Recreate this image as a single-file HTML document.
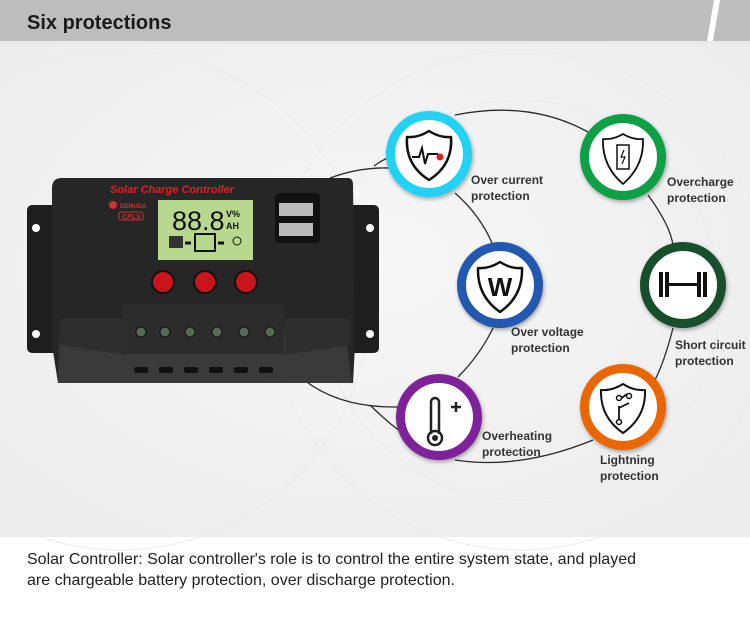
<!DOCTYPE html>
<html><head><meta charset="utf-8"><style>
html,body{margin:0;padding:0;background:#fff}
svg{display:block}
text{font-family:"Liberation Sans",sans-serif}
</style></head><body>
<svg width="750" height="620" viewBox="0 0 750 620" xmlns="http://www.w3.org/2000/svg">
<defs>
<radialGradient id="bg" cx="0.5" cy="0.45" r="0.7">
<stop offset="0" stop-color="#f7f7f7"/><stop offset="1" stop-color="#ececec"/>
</radialGradient>
<filter id="sh" x="-20%" y="-20%" width="140%" height="140%"><feDropShadow dx="1" dy="2" stdDeviation="2" flood-opacity="0.35"/></filter>
</defs>
<rect x="0" y="41" width="750" height="496" fill="url(#bg)"/>
<g fill="none" stroke="#eaeaea" stroke-width="1">
<circle cx="120" cy="300" r="250"/><circle cx="520" cy="300" r="250"/><circle cx="520" cy="300" r="200"/>
</g>
<!-- header -->
<rect x="0" y="0" width="750" height="41" fill="#bdbdbd"/>
<polygon points="714,0 720,0 713,41 707,41" fill="#fff"/>
<rect x="0" y="41" width="750" height="3" fill="#e9e9e9"/>
<text x="27" y="29" font-size="20" font-weight="bold" fill="#1a1a1a">Six protections</text>

<!-- connectors -->
<g fill="none" stroke="#2a2a2a" stroke-width="1.3">
<path d="M455,115 Q530,100 588,132"/>
<path d="M648,195 Q670,225 673,245"/>
<path d="M673,328 Q665,360 655,380"/>
<path d="M593,440 Q520,470 455,460"/>
<path d="M458,377 Q480,355 493,328"/>
<path d="M492,243 Q480,215 455,193"/>
<path d="M330,178 Q360,167 390,168"/>
<path d="M374,166 Q382,160 390,157"/>
<path d="M304,380 Q340,408 398,407"/>
<path d="M370,405 Q385,420 401,432"/>
</g>

<!-- device -->
<g>
<rect x="27" y="205" width="352" height="148" rx="5" fill="#1e1e1e"/>
<circle cx="36" cy="228" r="4" fill="#fff"/><circle cx="36" cy="334" r="4" fill="#fff"/>
<circle cx="370" cy="228" r="4" fill="#fff"/><circle cx="370" cy="334" r="4" fill="#fff"/>
<path d="M62,178 L348,178 Q353,178 353,185 L355,345 L353,383 L58,383 L52,345 L52,188 Q52,178 62,178 Z" fill="#262626"/>
<path d="M60,330 L345,330 L352,383 L58,383 Z" fill="#3a3a3a"/>
<path d="M60,318 L125,318 L125,355 L60,345Z M285,318 L350,318 L350,345 L285,355Z" fill="#2e2e2e"/>
<rect x="122" y="304" width="162" height="50" rx="3" fill="#2c2c2c"/>
<g fill="#556b55" stroke="#111" stroke-width="1">
<circle cx="141" cy="332" r="5"/><circle cx="165" cy="332" r="5"/><circle cx="190" cy="332" r="5"/>
<circle cx="217" cy="332" r="5"/><circle cx="244" cy="332" r="5"/><circle cx="270" cy="332" r="5"/>
</g>
<g fill="#111">
<rect x="134" y="367" width="14" height="6" rx="2"/><rect x="159" y="367" width="14" height="6" rx="2"/>
<rect x="184" y="367" width="14" height="6" rx="2"/><rect x="209" y="367" width="14" height="6" rx="2"/>
<rect x="234" y="367" width="14" height="6" rx="2"/><rect x="259" y="367" width="14" height="6" rx="2"/>
</g>
<text x="110" y="193" font-size="11" font-style="italic" font-weight="bold" fill="#d22">Solar Charge Controller</text>
<circle cx="113" cy="205" r="4" fill="#c33"/>
<text x="120" y="208" font-size="6" font-weight="bold" fill="#c33">DEMUDA</text>
<rect x="119" y="212" width="24" height="8" rx="2" fill="none" stroke="#c33"/>
<text x="122" y="219" font-size="7" font-style="italic" font-weight="bold" fill="#c33">CPLS</text>
<rect x="158" y="200" width="95" height="60" fill="#b8d88f"/>
<text x="172" y="230" font-size="27" fill="#111">88.8</text>
<text x="226" y="217" font-size="9" font-weight="bold" fill="#111">V%</text>
<text x="226" y="229" font-size="9" font-weight="bold" fill="#111">AH</text>
<rect x="169" y="236" width="14" height="12" fill="#333"/>
<rect x="195" y="234" width="20" height="17" fill="none" stroke="#111" stroke-width="2"/>
<path d="M185,243 h6 M218,243 h6" stroke="#111" stroke-width="3"/>
<circle cx="237" cy="241" r="4" fill="none" stroke="#111"/>
<rect x="275" y="193" width="45" height="50" rx="4" fill="#111"/>
<rect x="279" y="203" width="34" height="13" fill="#bbb"/><rect x="279" y="223" width="34" height="13" fill="#bbb"/>
<g fill="#c8141a" stroke="#111" stroke-width="2">
<circle cx="163" cy="282" r="11"/><circle cx="205" cy="282" r="11"/><circle cx="246" cy="282" r="11"/>
</g>
</g>

<!-- rings -->
<g filter="url(#sh)" stroke-width="9" fill="#fff">
<circle cx="429" cy="154" r="38.5" stroke="#22d2f4"/>
<circle cx="623" cy="157" r="38.5" stroke="#07a045"/>
<circle cx="500" cy="285" r="38.5" stroke="#2358b0"/>
<circle cx="683" cy="285" r="38.5" stroke="#134f2c"/>
<circle cx="439" cy="417" r="38.5" stroke="#7d2298"/>
<circle cx="623" cy="407" r="38.5" stroke="#ea6606"/>
</g>
<!-- icons -->
<g fill="none" stroke="#111" stroke-width="2.5" stroke-linejoin="round">
<path d="M429,131 Q418,138 407,137 Q405,165 429,180 Q453,165 451,137 Q440,138 429,131Z"/>
<path d="M623,134 Q613,140 603,139 Q602,166 623,184 Q644,166 643,139 Q633,140 623,134Z" stroke-width="1.8"/>
<path d="M500,262 Q489,269 478,268 Q477,296 500,312 Q523,296 522,268 Q511,269 500,262Z"/>
<path d="M623,384 Q612,391 601,390 Q600,417 623,433 Q646,417 645,390 Q634,391 623,384Z" stroke-width="2"/>
</g>
<path d="M412,157 h7 l3,-9 l3,16 l3,-10 h10" fill="none" stroke="#111" stroke-width="2"/>
<circle cx="440" cy="157" r="3.5" fill="#e21b1b"/>
<rect x="617" y="145" width="12" height="24" fill="none" stroke="#111" stroke-width="1.5"/>
<path d="M624,150 l-3,7 h4 l-3,7" fill="none" stroke="#111" stroke-width="1.2"/>
<text x="500" y="296" font-size="26" font-weight="bold" text-anchor="middle" fill="#111">W</text>
<g fill="#111"><rect x="659" y="272" width="4" height="25"/><rect x="665" y="272" width="4" height="25"/><rect x="697" y="272" width="4" height="25"/><rect x="703" y="272" width="4" height="25"/><rect x="668" y="283" width="30" height="3"/></g>
<path d="M619,406 v14 M619,400 l8,-6 M619,408 l10,-5" fill="none" stroke="#111" stroke-width="1.8"/>
<circle cx="619" cy="398" r="2.5" fill="#fff" stroke="#111" stroke-width="1.5"/>
<circle cx="629" cy="396" r="2.5" fill="#fff" stroke="#111" stroke-width="1.5"/>
<circle cx="619" cy="422" r="2.5" fill="#fff" stroke="#111" stroke-width="1.5"/>
<path d="M431,434 V402 a4,4 0 0 1 8,0 V434" fill="none" stroke="#222" stroke-width="2.5"/>
<circle cx="435" cy="438" r="7" fill="none" stroke="#222" stroke-width="2.5"/>
<circle cx="435" cy="438" r="3" fill="#222"/>
<path d="M451,407 h10 M456,402 v10" stroke="#222" stroke-width="2.5"/>

<!-- labels -->
<g font-size="12" font-weight="bold" fill="#333">
<text x="471" y="184">Over current</text><text x="471" y="200">protection</text>
<text x="667" y="186">Overcharge</text><text x="667" y="202">protection</text>
<text x="511" y="336">Over voltage</text><text x="511" y="352">protection</text>
<text x="675" y="349">Short circuit</text><text x="675" y="365">protection</text>
<text x="482" y="440">Overheating</text><text x="482" y="456">protection</text>
<text x="600" y="464">Lightning</text><text x="600" y="480">protection</text>
</g>

<g font-size="16" fill="#222">
<text x="27" y="564" textLength="609" lengthAdjust="spacingAndGlyphs">Solar Controller: Solar controller's role is to control the entire system state, and played</text>
<text x="27" y="585" textLength="428" lengthAdjust="spacingAndGlyphs">are chargeable battery protection, over discharge protection.</text>
</g>
</svg>
</body></html>
